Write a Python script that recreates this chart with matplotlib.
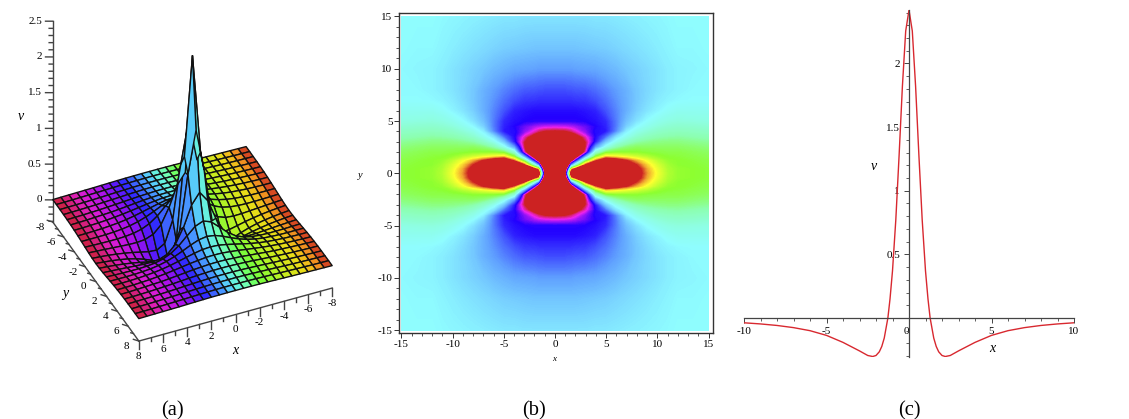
import numpy as np
import matplotlib
matplotlib.use('Agg')
import matplotlib.pyplot as plt
from matplotlib.colors import LinearSegmentedColormap, Normalize
from mpl_toolkits.mplot3d import proj3d

W, H = 1129, 419
plt.rcParams['font.family'] = ['Liberation Serif', 'DejaVu Serif']

surf_v = np.array([
    [2.48, 1.10, -.044, -.295, -.285, -.232, -.184, -.147, -.118, -.097, -.081, -.068, -.058],
    [1.51, .922, .178, -.122, -.187, -.179, -.154, -.128, -.107, -.089, -.075, -.064, -.055],
    [.708, .561, .281, .071, -.036, -.078, -.088, -.086, -.078, -.070, -.062, -.055, -.048],
    [.376, .332, .230, .124, .045, -.004, -.030, -.042, -.047, -.047, -.045, -.042, -.038],
    [.227, .210, .168, .116, .069, .032, .006, -.011, -.020, -.026, -.028, -.028, -.028],
    [.150, .143, .122, .096, .069, .044, .023, .008, -.002, -.010, -.014, -.017, -.018],
    [.106, .103, .091, .078, .061, .045, .030, .018, .008, .001, -.004, -.008, -.010],
    [.079, .077, .070, .062, .051, .040, .029, .019, .014, .008, .003, -.001, -.004],
    [.061, .060, .055, .050, .043, .035, .027, .020, .014, .009, .005, .002, .000],
    [.048, .048, .045, .041, .036, .030, .024, .019, .014, .010, .007, .004, .002],
    [.039, .039, .037, .034, .030, .026, .022, .017, .013, .010, .007, .005, .003],
    [.033, .032, .031, .029, .026, .023, .019, .016, .013, .010, .007, .005, .004],
    [.027, .027, .026, .025, .023, .020, .017, .014, .012, .010, .008, .006, .004],
])
surf_step = 2 / 3
z_ticks = [0, 0.5, 1, 1.5, 2, 2.5]
xy_ticks = [-8, -6, -4, -2, 0, 2, 4, 6, 8]
surf_x_pos = [8, 6, 4, 2.5, 1, 0, -1, -2, -4, -6, -7, -8]
surf_colors = ['#cc2233', '#e01ed0', '#a010f0', '#3020ff', '#4898ff', '#60e8f8',
               '#70ffb0', '#70ff40', '#c0f020', '#f0d818', '#f09020', '#cc2a22']

# (b) colour level, one quadrant, red is reached at -1 and at +1
map_x = [0, 1, 1.3, 1.6, 2, 3, 4, 5, 6, 7, 8, 9, 10, 11, 12, 13.5, 15]
map_y = [0, .4, .8, 1.2, 1.6, 2, 2.5, 3, 3.5, 4, 4.5, 5, 6, 7, 8, 10, 12, 15]
map_s = np.array([
    [-1.6, -1.3, 0, 1.3, 1.5, 1.6, 1.6, 1.6, 1.6, 1.5, 1.1, .88, .72, .58, .52, .5, .48],
    [-1.6, -1.4, -.6, .8, 1.05, 1.5, 1.6, 1.6, 1.5, 1.35, 1.07, .86, .7, .57, .52, .5, .48],
    [-1.6, -1.45, -1.25, -.4, .1, 1.0, 1.35, 1.5, 1.4, 1.2, .98, .8, .66, .55, .5, .49, .47],
    [-1.6, -1.5, -1.4, -1.2, -.7, .4, .95, 1.25, 1.15, 1.0, .85, .72, .6, .52, .5, .48, .46],
    [-1.6, -1.6, -1.6, -1.5, -1.3, -.3, .5, .8, .75, .7, .64, .58, .52, .49, .48, .46, .44],
    [-1.6, -1.6, -1.6, -1.6, -1.5, -.9, .15, .45, .5, .5, .5, .48, .47, .46, .46, .44, .42],
    [-1.6, -1.6, -1.6, -1.6, -1.5, -1.0, -.3, .05, .28, .38, .42, .42, .42, .42, .42, .4, .38],
    [-1.5, -1.5, -1.5, -1.5, -1.45, -1.0, -.6, -.18, .05, .2, .3, .34, .36, .37, .37, .35, .33],
    [-1.35, -1.32, -1.3, -1.25, -1.15, -.9, -.64, -.42, -.1, .05, .17, .24, .28, .3, .31, .29, .27],
    [-1.05, -1.03, -1.0, -.97, -.9, -.76, -.63, -.6, -.35, -.05, .07, .14, .2, .23, .24, .23, .21],
    [-.83, -.82, -.81, -.8, -.78, -.72, -.65, -.58, -.38, -.15, -.02, .06, .12, .16, .18, .17, .15],
    [-.66, -.66, -.66, -.66, -.66, -.65, -.62, -.56, -.38, -.2, -.09, 0, .06, .1, .12, .11, .1],
    [-.63, -.63, -.63, -.63, -.63, -.61, -.58, -.47, -.36, -.25, -.15, -.08, -.03, .02, .05, .05, .05],
    [-.55, -.55, -.55, -.55, -.54, -.53, -.48, -.41, -.33, -.25, -.17, -.11, -.06, -.03, -.01, 0, 0],
    [-.48, -.48, -.47, -.47, -.46, -.45, -.41, -.36, -.3, -.24, -.17, -.12, -.08, -.05, -.03, -.01, -.01],
    [-.3, -.3, -.3, -.3, -.29, -.28, -.27, -.24, -.21, -.17, -.14, -.11, -.08, -.05, -.03, -.02, -.01],
    [-.18, -.18, -.18, -.18, -.18, -.17, -.16, -.15, -.13, -.11, -.09, -.07, -.05, -.03, -.01, -.01, 0],
    [-.08, -.08, -.08, -.08, -.08, -.08, -.07, -.07, -.06, -.05, -.04, -.03, -.02, -.01, 0, 0, 0],
])
map_pos = [-1, -.85, -.65, -.3, 0, .3, .5, .75, .88, 1]
map_colors = ['#cc2222', '#ee22ee', '#2200ff', '#5f9fff', '#8ffdff', '#8cffb0',
              '#8cff30', '#ffff30', '#f0a030', '#cc2222']
map_ticks = [-15, -10, -5, 0, 5, 10, 15]

# (c) profile
line_x = [-10, -9, -8, -7, -6, -5, -4, -3, -2.5, -2.2, -2, -1.8, -1.65, -1.5, -1.28, -1.15,
          -1, -.8, -.6, -.4, -.2, 0, .2, .4, .6, .8, 1, 1.15, 1.28, 1.5, 1.65, 1.8, 2, 2.2,
          2.5, 3, 4, 5, 6, 7, 8, 9, 10]
line_v = [-.038, -.047, -.059, -.076, -.1, -.137, -.192, -.259, -.295, -.303, -.295, -.266,
          -.224, -.158, 0, .15, .37, .77, 1.277, 1.82, 2.255, 2.42, 2.255, 1.82, 1.277, .77,
          .37, .15, 0, -.158, -.224, -.266, -.295, -.303, -.295, -.259, -.192, -.137, -.1,
          -.076, -.059, -.047, -.038]
line_xticks = [-10, -5, 0, 5, 10]
line_vticks = [.5, 1, 1.5, 2]


def rect(l, t, r, b):
    return [l / W, 1 - b / H, (r - l) / W, (b - t) / H]


def px_text(x, y, s, **kw):
    fig.text(x / W, 1 - y / H, s, ha='center', va='center', **kw)


def tick_text(ax, x, y, z, s, ha='center'):
    # 3D point to the axes' 2D coordinates, plain text from there on
    u, v, _ = proj3d.proj_transform(x, y, z, ax.get_proj())
    ax.text2D(u, v, s, transform=ax.transData, ha=ha, va='center', fontsize=8)


fig = plt.figure(figsize=(W / 100, H / 100), dpi=100)

# panel a
ax = fig.add_axes(rect(7.6, -38, 367.6, 357), projection='3d', proj_type='ortho')
ax.view_init(elev=38, azim=66)
z_low = -.31
ax.set_xlim(-8, 8)
ax.set_ylim(-8, 8)
ax.set_zlim(z_low, 2.5)
ax.set_box_aspect((633.6, 633.6, 763), zoom=1.06)
ax.set_xticks([])
ax.set_yticks([])
ax.set_zticks([])
ax.set_axis_off()
ax.patch.set_alpha(0)

full = np.hstack((surf_v[:, :0:-1], surf_v))
full = np.vstack((full[:0:-1], full))
grid = np.arange(-12, 13) * surf_step
X, Y = np.meshgrid(grid, grid)
cmap_a = LinearSegmentedColormap.from_list(
    'surf', [((p + 8) / 16, c) for p, c in sorted(zip(surf_x_pos, surf_colors))])
face = cmap_a(Normalize(-8, 8)(X + surf_step / 2))
ax.plot_surface(X, Y, full, facecolors=face, edgecolor='#111111', linewidth=1,
                rstride=1, cstride=1, shade=False, antialiased=True)

axis_kw = dict(color='#444444', lw=1, clip_on=False)
ax.plot([8, 8], [-8, -8], [z_low, 2.5], **axis_kw)
ax.plot([8, 8], [-8, 8], [z_low, z_low], **axis_kw)
ax.plot([8, -8], [8, 8], [z_low, z_low], **axis_kw)
for z in np.arange(-3, 26) / 10:
    t = .5 if (round(z * 10) % 5 == 0) else .25
    ax.plot([8, 8 + t], [-8, -8 - .45 * t], [z, z], **axis_kw)
for z in z_ticks:
    tick_text(ax, 8 + .75, -8 - .34, z, f'{z:g}', ha='right')
for v in range(-8, 9):
    major = v % 2 == 0
    t = .45 if major else .22
    ax.plot([8, 8 + t], [v, v], [z_low, z_low + .1 * t], **axis_kw)
    d = .11 if major else .05
    ax.plot([v, v], [8, 8], [z_low, z_low - d], **axis_kw)
for v in xy_ticks:
    tick_text(ax, 9.0, v, z_low - .03, str(v))
    tick_text(ax, v, 8, z_low - .21, str(v))

px_text(21, 116, 'v', fontsize=10, style='italic')
px_text(65, 293, 'y', fontsize=10, style='italic')
px_text(235, 351, 'x', fontsize=10, style='italic')

# panel b
ax = fig.add_axes(rect(399.3, 13.3, 712.7, 333.3))
xb = np.concatenate((-np.array(map_x[:0:-1]), map_x))
yb = np.concatenate((-np.array(map_y[:0:-1]), map_y))
zb = np.hstack((map_s[:, :0:-1], map_s))
zb = np.vstack((zb[:0:-1], zb))
cmap_b = LinearSegmentedColormap.from_list(
    'hue', [((p + 1) / 2, c) for p, c in zip(map_pos, map_colors)], N=512)
cmap_b.set_under(map_colors[0])
cmap_b.set_over(map_colors[-1])
ax.contourf(xb, yb, zb, levels=np.linspace(-1, 1, 300), cmap=cmap_b, extend='both')
ax.set_xlim(-15.2, 15.4)
ax.set_ylim(-15.3, 15.3)
ax.set_xticks(map_ticks)
ax.set_yticks(map_ticks)
ax.set_xticklabels([str(t) for t in map_ticks], fontsize=8)
ax.set_yticklabels([str(t) for t in map_ticks], fontsize=8)
ax.set_xticks(np.arange(-15, 16), minor=True)
ax.set_yticks(np.arange(-15, 16), minor=True)
ax.tick_params(which='major', length=3.5, width=.7, pad=1.5, color='#333333')
ax.tick_params(which='minor', length=2, width=.6, color='#333333')
for sp in ax.spines.values():
    sp.set_linewidth(1)
    sp.set_color('#333333')
px_text(554, 359, 'x', fontsize=6.5, style='italic')
px_text(360, 175, 'y', fontsize=7.5, style='italic')

# panel c
ax = fig.add_axes(rect(744, 10, 1074, 357.4))
ax.patch.set_alpha(0)
ax.plot(line_x, line_v, color='#d8282f', lw=1)
ax.set_xlim(-10, 10)
ax.set_ylim(-.31, 2.42)
for side in ('top', 'right'):
    ax.spines[side].set_visible(False)
ax.spines['left'].set_position(('data', 0))
ax.spines['bottom'].set_position(('data', 0))
for side in ('left', 'bottom'):
    ax.spines[side].set_color('#444444')
    ax.spines[side].set_linewidth(.9)
ax.set_xticks(line_xticks)
ax.set_xticklabels([str(t) for t in line_xticks], fontsize=8)
ax.set_yticks(line_vticks)
ax.set_yticklabels([f'{t:g}' for t in line_vticks], fontsize=8)
ax.set_xticks(np.arange(-10, 11), minor=True)
ax.set_yticks(np.arange(-3, 25) / 10, minor=True)
ax.tick_params(which='major', length=3.5, width=.7, pad=3, color='#444444')
ax.tick_params(which='minor', length=2, width=.6, color='#444444')
for lab, t in zip(ax.get_xticklabels(), line_xticks):
    if t == 0:
        lab.set_ha('right')
px_text(992, 348, 'x', fontsize=10, style='italic')
px_text(874, 166, 'v', fontsize=10, style='italic')

for cx, s in [(172, '(a)'), (534, '(b)'), (909, '(c)')]:
    px_text(cx, 411, s, fontsize=14.7)

fig.savefig('out.png', dpi=100)
